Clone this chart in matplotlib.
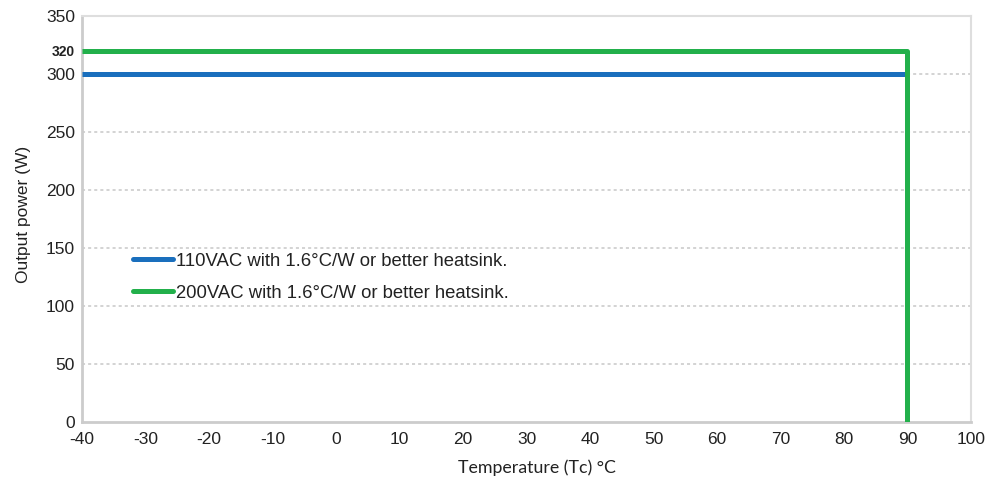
import matplotlib
matplotlib.use('Agg')
import matplotlib.pyplot as plt

# derating curves
temp_110 = [-40, 90]
power_110 = [300, 300]
temp_200 = [-40, 90, 90]
power_200 = [320, 320, 0]

yticks = [0, 50, 100, 150, 200, 250, 300, 350]
xticks = [-40, -30, -20, -10, 0, 10, 20, 30, 40, 50, 60, 70, 80, 90, 100]
grid_levels = [50, 100, 150, 200, 250, 300]

blue = '#1a6fbd'
green = '#22b04b'

plt.rcParams['font.family'] = ['Liberation Sans', 'DejaVu Sans']
plt.rcParams['axes.unicode_minus'] = False

fig = plt.figure(figsize=(9.92, 4.82), dpi=100)
ax = fig.add_axes([82/992, 60/482, 889/992, 406/482])

for g in grid_levels:
    ax.axhline(g, color='#c8c8c8', lw=1.1, ls=(0, (2, 2)), zorder=0)

ax.plot(temp_110, power_110, color=blue, lw=3.6, solid_capstyle='butt', zorder=3,
        label='110VAC with 1.6°C/W or better heatsink.')
ax.plot(temp_200, power_200, color=green, lw=3.6, solid_capstyle='butt',
        solid_joinstyle='round', zorder=4,
        label='200VAC with 1.6°C/W or better heatsink.')

ax.set_xlim(-40, 100)
ax.set_ylim(0, 350)
ax.set_xticks(xticks)
ax.set_yticks(yticks + [320])
ylabels = [str(v) for v in yticks] + ['320']
ax.set_yticklabels(ylabels)
for lbl in ax.get_yticklabels():
    if lbl.get_text() == '320':
        lbl.set_fontweight('bold')
        lbl.set_fontsize(10)
    else:
        lbl.set_fontsize(12.5)
for lbl in ax.get_xticklabels():
    lbl.set_fontsize(12.5)
ax.tick_params(axis='x', length=0, pad=7, colors='#222222')
ax.tick_params(axis='y', length=0, pad=5, colors='#222222')

for side in ['top', 'right']:
    ax.spines[side].set_color('#dedede')
    ax.spines[side].set_linewidth(1.5)
for side in ['left', 'bottom']:
    ax.spines[side].set_color('#cccccc')
    ax.spines[side].set_linewidth(2)

ax.set_xlabel('Temperature (Tc) °C', fontsize=12.8, family=['Lato', 'DejaVu Sans'],
              color='#222222', labelpad=9)
ax.xaxis.label.set_x(0.512)
ax.set_ylabel('Output power (W)', fontsize=12.5, color='#222222', labelpad=11)
ax.yaxis.label.set_y(0.512)

leg = ax.legend(loc='upper left', bbox_to_anchor=(0.0574, 0.417), frameon=False,
                fontsize=13.3, handlelength=2.16, handletextpad=0.16, labelspacing=0.82,
                borderaxespad=0, borderpad=0)
for t in leg.get_texts():
    t.set_color('#222222')
for h in leg.get_lines():
    h.set_solid_capstyle('round')

fig.savefig('out.png', dpi=100)
